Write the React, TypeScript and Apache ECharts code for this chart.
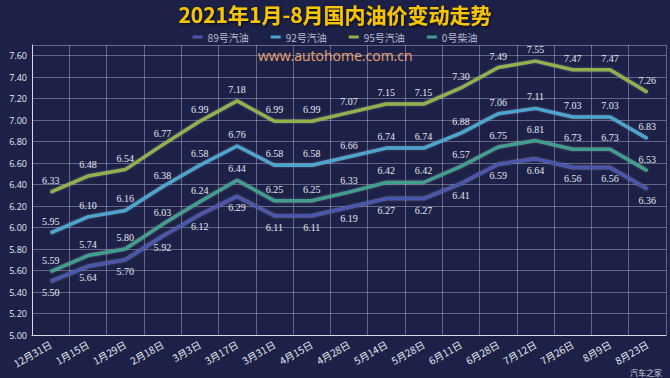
import React, { useEffect, useRef } from "react";
import * as echarts from "echarts";

const categories = [
  "12月31日", "1月15日", "1月29日", "2月18日", "3月3日", "3月17日", "3月31日", "4月15日",
  "4月28日", "5月14日", "5月28日", "6月11日", "6月28日", "7月12日", "7月26日", "8月9日", "8月23日",
];
const gas89 = [5.50, 5.64, 5.70, 5.92, 6.12, 6.29, 6.11, 6.11, 6.19, 6.27, 6.27, 6.41, 6.59, 6.64, 6.56, 6.56, 6.36];
const gas92 = [5.95, 6.10, 6.16, 6.38, 6.58, 6.76, 6.58, 6.58, 6.66, 6.74, 6.74, 6.88, 7.06, 7.11, 7.03, 7.03, 6.83];
const gas95 = [6.33, 6.48, 6.54, 6.77, 6.99, 7.18, 6.99, 6.99, 7.07, 7.15, 7.15, 7.30, 7.49, 7.55, 7.47, 7.47, 7.26];
const diesel0 = [5.59, 5.74, 5.80, 6.03, 6.24, 6.44, 6.25, 6.25, 6.33, 6.42, 6.42, 6.57, 6.75, 6.81, 6.73, 6.73, 6.53];

const seriesNames = ["89号汽油", "92号汽油", "95号汽油", "0号柴油"];
const seriesColors = ["#4a56ad", "#4ba5d0", "#8fb24c", "#3f9e8c"];

export default function App() {
  const ref = useRef<HTMLDivElement>(null);
  useEffect(() => {
    if (!ref.current) return;
    const chart = echarts.init(ref.current, null, { renderer: "svg" });
    const dataSets = [gas89, gas92, gas95, diesel0];
    const labelStyle = {
      show: true,
      color: "#e6e8f0",
      fontSize: 10,
      fontFamily: "Liberation Serif",
      formatter: (p: any) => Number(p.value).toFixed(2),
    };
    chart.setOption({
      animation: false,
      backgroundColor: "#1d2147",
      title: {
        text: "2021年1月-8月国内油价变动走势",
        left: "center",
        top: 3,
        padding: 0,
        textStyle: {
          color: "#f6c400",
          fontSize: 21,
          lineHeight: 22,
          fontWeight: "bold",
          fontFamily: "Noto Sans CJK SC",
          textShadowColor: "rgba(0,0,0,0.8)",
          textShadowBlur: 3,
          textShadowOffsetX: 1,
          textShadowOffsetY: 1,
        },
      },
      legend: {
        top: 32,
        left: "center",
        padding: 0,
        icon: "rect",
        itemWidth: 10,
        itemHeight: 3,
        itemGap: 22,
        textStyle: { color: "#b9bccb", fontSize: 10, fontFamily: "Noto Sans CJK SC", lineHeight: 10 },
        data: seriesNames,
      },
      grid: { left: 32, right: 4, top: 45, bottom: 43 },
      xAxis: {
        type: "category",
        data: categories,
        boundaryGap: true,
        axisLine: { lineStyle: { color: "#d8dae6", width: 1 } },
        axisTick: { show: false },
        axisLabel: {
          color: "#e6e8f0",
          fontSize: 10,
          rotate: 30,
          interval: 0,
          margin: 8,
          fontFamily: "Noto Sans CJK SC",
        },
        splitLine: { show: true, lineStyle: { color: "rgba(200,205,230,0.4)", width: 1 } },
      },
      yAxis: {
        type: "value",
        min: 5,
        max: 7.7,
        interval: 0.2,
        axisLine: { show: true, lineStyle: { color: "#d8dae6", width: 1 } },
        axisTick: { show: false },
        axisLabel: {
          color: "#e6e8f0",
          fontSize: 9,
          margin: 5,
          showMaxLabel: false,
          fontFamily: "Open Sans",
          formatter: (v: number) => (Math.abs(v - 7.7) < 1e-6 ? "" : v.toFixed(2)),
        },
        splitLine: { show: true, lineStyle: { color: "rgba(200,205,230,0.4)", width: 1 } },
      },
      graphic: [
        {
          type: "text",
          left: 258,
          top: 48,
          style: {
            text: "www.autohome.com.cn",
            fill: "#e9a36a",
            fontSize: 14,
            fontFamily: "Open Sans",
          },
        },
        {
          type: "text",
          right: 8,
          bottom: 2,
          style: {
            text: "汽车之家",
            fill: "#d0d2dc",
            fontSize: 8,
            fontFamily: "Noto Sans CJK SC",
          },
        },
      ],
      series: seriesNames.map((name, i) => ({
        name,
        type: "line",
        data: dataSets[i],
        symbol: "circle",
        symbolSize: 1,
        showSymbol: true,
        itemStyle: { color: seriesColors[i] },
        color: seriesColors[i],
        lineStyle: {
          width: 3.5,
          color: seriesColors[i],
          shadowColor: "rgba(255,255,255,0.25)",
          shadowBlur: 2,
        },
        label: { ...labelStyle, position: i === 0 ? "bottom" : "top", distance: 6 },
        z: 3 + i,
      })),
    });
    return () => chart.dispose();
  }, []);
  return <div ref={ref} style={{ width: 670, height: 378, position: "absolute", left: 0, top: 0 }} />;
}
